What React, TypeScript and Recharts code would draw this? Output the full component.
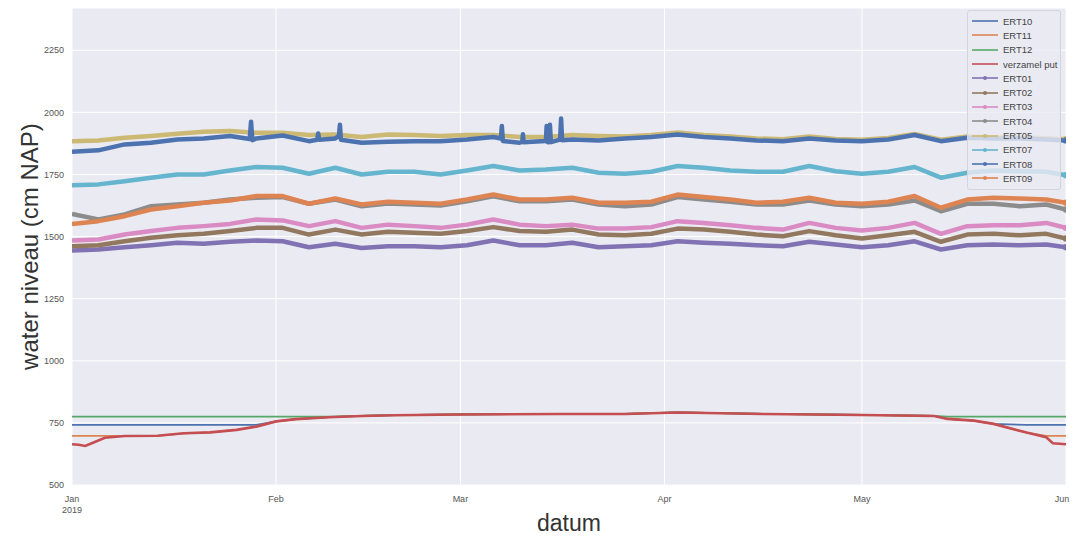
import React from "react";
import { LineChart, Line, XAxis, YAxis, CartesianGrid, Label } from "recharts";

// days since 1 Jan 2019
const days = [0, 4, 8, 12, 16, 20, 24, 28, 32, 36, 40, 44, 48, 52, 56, 60, 64, 68, 72, 76, 80, 84, 88, 92, 96, 100, 104, 108, 112, 116, 120, 124, 128, 132, 136, 140, 144, 148, 151];

const ert01 = [1444, 1448, 1457, 1465, 1475, 1471, 1479, 1484, 1481, 1457, 1471, 1454, 1461, 1461, 1457, 1465, 1484, 1465, 1465, 1475, 1457, 1461, 1465, 1481, 1475, 1471, 1465, 1461, 1479, 1468, 1457, 1465, 1481, 1448, 1465, 1468, 1465, 1468, 1457];
const ert02 = [1461, 1465, 1481, 1495, 1505, 1511, 1522, 1535, 1535, 1508, 1528, 1508, 1519, 1515, 1511, 1522, 1538, 1522, 1519, 1528, 1508, 1505, 1511, 1532, 1528, 1519, 1508, 1501, 1522, 1505, 1492, 1505, 1519, 1479, 1508, 1511, 1505, 1511, 1492];
const ert03 = [1484, 1488, 1508, 1522, 1535, 1542, 1551, 1569, 1565, 1542, 1562, 1535, 1548, 1542, 1535, 1548, 1569, 1548, 1542, 1548, 1532, 1532, 1538, 1562, 1555, 1546, 1535, 1528, 1555, 1535, 1524, 1535, 1555, 1511, 1542, 1546, 1546, 1555, 1535];
const ert04 = [1591, 1569, 1589, 1622, 1629, 1636, 1649, 1656, 1659, 1632, 1649, 1622, 1633, 1629, 1625, 1642, 1662, 1642, 1642, 1649, 1629, 1622, 1629, 1659, 1649, 1640, 1629, 1629, 1645, 1629, 1622, 1629, 1645, 1602, 1632, 1632, 1622, 1629, 1609];
const ert05 = [1884, 1887, 1898, 1905, 1914, 1922, 1925, 1918, 1918, 1909, 1911, 1901, 1911, 1909, 1905, 1909, 1909, 1901, 1901, 1909, 1905, 1903, 1909, 1919, 1909, 1903, 1895, 1892, 1903, 1893, 1890, 1897, 1913, 1890, 1903, 1900, 1900, 1896, 1892];
const ert07 = [1707, 1710, 1723, 1737, 1750, 1750, 1766, 1780, 1777, 1753, 1777, 1750, 1761, 1761, 1750, 1766, 1784, 1766, 1770, 1777, 1757, 1753, 1761, 1784, 1777, 1766, 1761, 1761, 1784, 1763, 1753, 1761, 1780, 1737, 1757, 1766, 1763, 1761, 1747];
const ert08 = [1841, 1847, 1871, 1878, 1891, 1895, 1905, 1895, 1907, 1884, 1895, 1878, 1882, 1884, 1884, 1891, 1901, 1878, 1887, 1891, 1887, 1895, 1901, 1911, 1901, 1895, 1887, 1884, 1895, 1887, 1884, 1891, 1909, 1884, 1898, 1895, 1895, 1891, 1887];
const ert09 = [1551, 1562, 1582, 1609, 1622, 1636, 1645, 1663, 1663, 1632, 1653, 1629, 1640, 1636, 1632, 1649, 1669, 1649, 1649, 1656, 1636, 1636, 1640, 1669, 1659, 1649, 1636, 1640, 1656, 1636, 1632, 1640, 1663, 1616, 1649, 1656, 1653, 1649, 1636];

// short spikes in ERT08
const ert08SpikeDays = [27.0, 27.2, 27.4, 37.25, 37.4, 37.55, 40.55, 40.7, 40.85, 65.15, 65.3, 65.45, 68.4, 68.5, 68.6, 71.95, 72.1, 72.25, 72.45, 72.6, 72.75, 74.15, 74.3, 74.45];
const ert08SpikeValues = [1893, 1962, 1888, 1890, 1915, 1890, 1905, 1950, 1890, 1895, 1945, 1885, 1880, 1912, 1880, 1885, 1945, 1880, 1880, 1950, 1880, 1890, 1975, 1888];

// lower group, finer sampling
const lowDays = [0, 1, 2, 3, 5, 8, 13, 17, 21, 25, 28, 31, 34, 39, 44, 49, 59, 74, 84, 92, 105, 120, 131, 133, 137, 140, 145, 148, 149, 151];
const verzamelPut = [664, 662, 657, 668, 690, 697, 698, 708, 712, 722, 735, 756, 765, 773, 778, 781, 784, 786, 786, 792, 786, 782, 778, 766, 759, 746, 711, 692, 668, 664];
const ert10 = [742, 742, 742, 742, 742, 742, 742, 742, 742, 742, 742, 756, 765, 773, 778, 781, 784, 786, 786, 792, 786, 782, 778, 766, 759, 746, 742, 742, 742, 742];
const ert11 = [698, 698, 698, 698, 698, 698, 698, 708, 712, 722, 735, 756, 765, 773, 778, 781, 784, 786, 786, 792, 786, 782, 778, 766, 759, 746, 711, 698, 698, 698];
const ert12 = [775, 775, 775, 775, 775, 775, 775, 775, 775, 775, 775, 775, 775, 775, 778, 781, 784, 786, 786, 792, 786, 782, 778, 775, 775, 775, 775, 775, 775, 775];

const monthDays = [0, 31, 59, 90, 120, 151];
const monthLabels = ["Jan", "Feb", "Mar", "Apr", "May", "Jun"];
const yTicks = [500, 750, 1000, 1250, 1500, 1750, 2000, 2250];

const FONT = "'Liberation Sans', Arial, sans-serif";

const toPoints = (xs: number[], vs: number[]) => xs.map((d, i) => ({ day: d, v: vs[i] }));

const ert08Data = [...toPoints(days, ert08), ...toPoints(ert08SpikeDays, ert08SpikeValues)].sort((a, b) => a.day - b.day);

const lowSeries = [
  { name: "ERT10", color: "#4c72b0", data: toPoints(lowDays, ert10), width: 1.8 },
  { name: "ERT11", color: "#dd8452", data: toPoints(lowDays, ert11), width: 1.8 },
  { name: "ERT12", color: "#55a868", data: toPoints(lowDays, ert12), width: 1.8 },
  { name: "verzamel put", color: "#c44e52", data: toPoints(lowDays, verzamelPut), width: 2.6 },
];

const highSeries = [
  { name: "ERT01", color: "#8172b3", data: toPoints(days, ert01) },
  { name: "ERT02", color: "#937860", data: toPoints(days, ert02) },
  { name: "ERT03", color: "#da8bc3", data: toPoints(days, ert03) },
  { name: "ERT04", color: "#8c8c8c", data: toPoints(days, ert04) },
  { name: "ERT05", color: "#ccb974", data: toPoints(days, ert05) },
  { name: "ERT07", color: "#64b5cd", data: toPoints(days, ert07) },
  { name: "ERT08", color: "#4c72b0", data: ert08Data },
  { name: "ERT09", color: "#dd8452", data: toPoints(days, ert09) },
];

const endDot = (last: number, color: string) => (p: any) =>
  p.index === last ? (
    <circle key={`d${p.index}`} cx={p.cx} cy={p.cy} r={3.2} fill={color} />
  ) : (
    <g key={`d${p.index}`} />
  );

const MonthTick = (props: any) => {
  const { x, y, index } = props;
  return (
    <g>
      <text x={x} y={y + 9} textAnchor="middle" fontSize={9} fill="#555" fontFamily={FONT}>
        {monthLabels[index]}
      </text>
      {index === 0 && (
        <text x={x} y={y + 20} textAnchor="middle" fontSize={9} fill="#555" fontFamily={FONT}>
          2019
        </text>
      )}
    </g>
  );
};

function ChartLegend() {
  const items = [...lowSeries.map((s) => ({ ...s, marker: false })), ...highSeries.map((s) => ({ ...s, marker: true }))];
  return (
    <div
      style={{
        position: "absolute",
        left: 967,
        top: 10,
        width: 94,
        padding: "3px 0",
        background: "rgba(234,234,242,0.8)",
        border: "1px solid #d4d4dc",
        borderRadius: 3,
        boxSizing: "border-box",
        fontFamily: FONT,
        fontSize: 9.5,
        color: "#444",
      }}
    >
      {items.map((it) => (
        <div key={it.name} style={{ height: 14.3, display: "flex", alignItems: "center" }}>
          <svg width={30} height={8} style={{ marginLeft: 3, marginRight: 2 }}>
            <line x1={1} y1={4} x2={27} y2={4} stroke={it.color} strokeWidth={1.6} />
            {it.marker && <circle cx={14} cy={4} r={2} fill={it.color} />}
          </svg>
          <span style={{ whiteSpace: "nowrap" }}>{it.name}</span>
        </div>
      ))}
    </div>
  );
}

export default function App() {
  return (
    <div style={{ position: "absolute", left: 0, top: 0, width: 1074, height: 540, background: "#fff" }}>
      <LineChart width={1074} height={540} margin={{ top: 8, right: 8, bottom: 0, left: 0 }}>
        <CartesianGrid fill="#eaeaf2" stroke="#ffffff" strokeWidth={1} />
        <XAxis
          type="number"
          dataKey="day"
          domain={[0, 151]}
          ticks={monthDays}
          tick={<MonthTick />}
          axisLine={false}
          tickLine={false}
          height={55}
          allowDataOverflow
        >
          <Label
            content={(p: any) => (
              <text
                x={p.viewBox.x + p.viewBox.width / 2}
                y={p.viewBox.y + 46}
                textAnchor="middle"
                fontSize={23}
                fill="#333"
                fontFamily={FONT}
              >
                datum
              </text>
            )}
          />
        </XAxis>
        <YAxis
          type="number"
          domain={[500, 2420]}
          ticks={yTicks}
          axisLine={false}
          tickLine={false}
          width={72}
          tick={{ fontSize: 9, fill: "#555", fontFamily: FONT }}
          allowDataOverflow
        >
          <Label
            content={(p: any) => {
              const cy = p.viewBox.y + p.viewBox.height / 2;
              return (
                <text
                  x={38}
                  y={cy}
                  transform={`rotate(-90 38 ${cy})`}
                  textAnchor="middle"
                  fontSize={24}
                  fill="#333"
                  fontFamily={FONT}
                >
                  water niveau (cm NAP)
                </text>
              );
            }}
          />
        </YAxis>
        {lowSeries.map((s) => (
          <Line
            key={s.name}
            data={s.data}
            dataKey="v"
            name={s.name}
            stroke={s.color}
            strokeWidth={s.width}
            dot={false}
            isAnimationActive={false}
          />
        ))}
        {highSeries.map((s) => (
          <Line
            key={s.name}
            data={s.data}
            dataKey="v"
            name={s.name}
            stroke={s.color}
            strokeWidth={4.5}
            strokeLinejoin="round"
            dot={endDot(s.data.length - 1, s.color)}
            isAnimationActive={false}
          />
        ))}
      </LineChart>
      <ChartLegend />
    </div>
  );
}
